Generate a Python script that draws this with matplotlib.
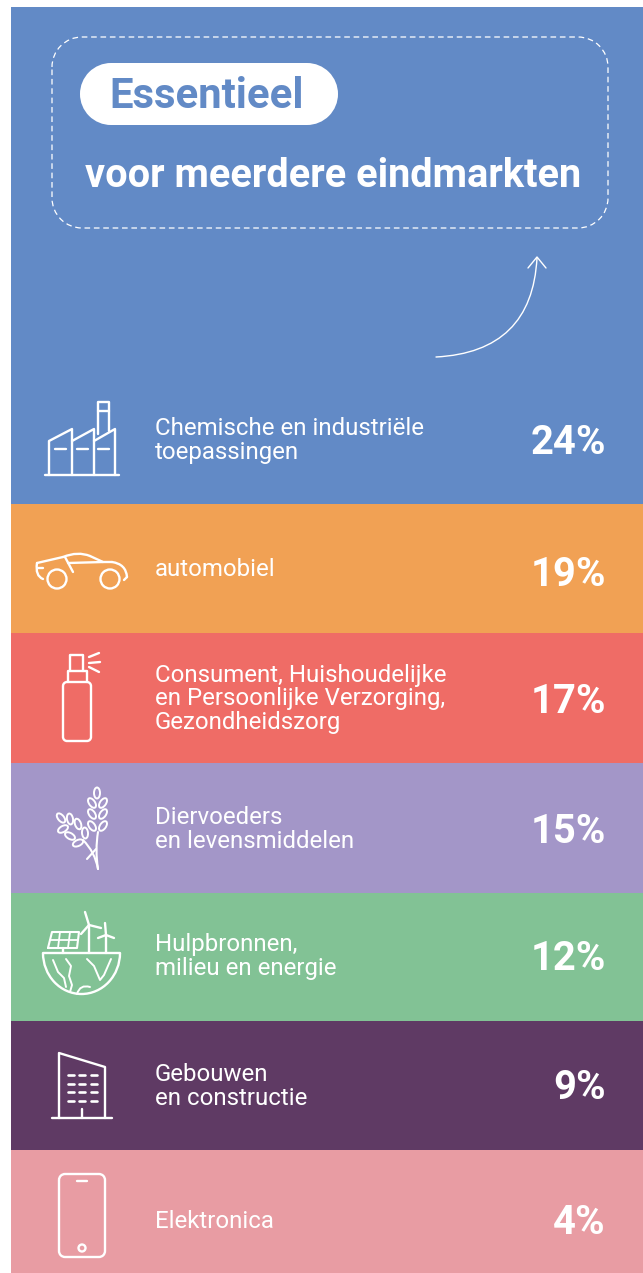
import matplotlib
matplotlib.use("Agg")
import matplotlib.pyplot as plt
import numpy as np
from matplotlib.patches import Circle, Ellipse, PathPatch
from matplotlib.path import Path
from matplotlib.transforms import Affine2D

plt.rcParams['font.family'] = ['Roboto', 'DejaVu Sans']

categories = ["Chemische en industriële\ntoepassingen", "automobiel",
              "Consument, Huishoudelijke\nen Persoonlijke Verzorging,\nGezondheidszorg",
              "Diervoeders\nen levensmiddelen", "Hulpbronnen,\nmilieu en energie",
              "Gebouwen\nen constructie", "Elektronica"]
values = [24, 19, 17, 15, 12, 9, 4]
band_edges = [7, 504, 633, 763, 893, 1021, 1150, 1273]
colors = ["#628AC6", "#F1A154", "#EF6C66", "#A396C8", "#82C295", "#5F3A64", "#E89CA3"]
label_y = [440.5, 570, 699, 829.5, 956.5, 1086.5, 1221]
value_y = [443, 575, 702, 832, 959, 1088, 1223]

W = "white"
LW = 1.7
fig = plt.figure(figsize=(6.43, 12.73), dpi=100)
ax = fig.add_axes([0, 0, 1, 1])
ax.set_xlim(0, 643)
ax.set_ylim(1273, 0)
ax.axis("off")


def lijn(pts, lw=LW):
    ax.plot([p[0] for p in pts], [p[1] for p in pts], c=W, lw=lw, solid_capstyle="round", solid_joinstyle="round")


def kromme(pts, lw=LW):
    # punten als start, controle, eind, controle, eind ...
    codes = [Path.MOVETO] + [Path.CURVE3] * (len(pts) - 1)
    ax.add_patch(PathPatch(Path(pts, codes), fc="none", ec=W, lw=lw, capstyle="round"))


def rond(x, y, w, h, r, fc="none", lw=LW, ls="-", ec=W):
    # rechthoek met echte cirkelbogen als hoeken
    hoeken = [(180, 270, x + r, y + r), (270, 360, x + w - r, y + r),
              (0, 90, x + w - r, y + h - r), (90, 180, x + r, y + h - r)]
    verts = []
    codes = []
    for a, b, cx, cy in hoeken:
        p = Path.arc(a, b).transformed(Affine2D().scale(r).translate(cx, cy))
        verts.extend(p.vertices)
        codes.extend([Path.LINETO] + list(p.codes[1:]))
    codes[0] = Path.MOVETO
    verts.append(verts[0])
    codes.append(Path.LINETO)
    ax.add_patch(PathPatch(Path(np.array(verts), codes), fc=fc, ec=ec, lw=lw, ls=ls))


# banden
for i in range(len(values)):
    ax.bar(11, band_edges[i + 1] - band_edges[i], width=632, bottom=band_edges[i], align="edge", color=colors[i], lw=0)
    ax.text(155, label_y[i], categories[i], color=W, fontsize=17.3, va="center", ha="left", linespacing=1.05)
    ax.text(606, value_y[i], "%d%%" % values[i], color=W, fontsize=28.8, fontweight="bold", va="center", ha="right")

# kop
rond(52, 37, 556, 191, 30, lw=0.9, ls=(0, (4.5, 3)))
rond(80, 63, 258, 62, 31, fc=W, lw=0, ec="none")
ax.text(109, 97, "Essentieel", color=colors[0], fontsize=30.2, fontweight="bold", va="center", ha="left")
ax.text(85, 176, "voor meerdere eindmarkten", color=W, fontsize=28.65, fontweight="bold", va="center", ha="left")

# pijl
kromme([(436, 357), (532, 352), (537, 258)], lw=1.0)
lijn([(528, 268), (537, 257), (546, 268)], lw=1.0)

# fabriek
lijn([(45, 475), (119, 475)])
lijn([(49, 475), (49, 441), (72, 429), (72, 475)])
lijn([(72, 441), (94, 429), (94, 441)])
lijn([(94, 475), (94, 441), (115, 429), (115, 475)])
lijn([(98, 434), (98, 402), (109, 402), (109, 431)])
lijn([(98, 411), (109, 411)])
for x0 in (55, 77, 98):
    lijn([(x0, 449), (x0 + 11, 449)])

# auto
lijn([(37, 563), (63, 557)])
kromme([(63, 557), (78, 551), (90, 556)])
lijn([(90, 556), (103, 562), (112, 562)])
kromme([(112, 562), (126, 564), (127, 577)])
lijn([(127, 577), (124, 580)])
kromme([(37, 563), (35, 576), (43, 579)])
lijn([(38, 568), (43, 568)])
lijn([(65, 557), (73, 572)])
lijn([(68, 563), (103, 562)])
for x0 in (57, 110):
    ax.add_patch(Circle((x0, 579), 9.5, fc="none", ec=W, lw=LW))

# spray
rond(63, 682, 28, 59, 4)
lijn([(68, 682), (68, 671), (87, 671), (87, 682)])
lijn([(70, 671), (70, 655), (83, 655), (83, 671)])
lijn([(89, 657), (99, 653)])
lijn([(89, 663), (100, 662)])
lijn([(89, 667), (99, 672)])

# aar
kromme([(98, 869), (95, 850), (98, 832)], lw=1.5)
kromme([(98, 869), (95, 852), (83, 840)], lw=1.5)
lijn([(87, 859), (96, 849)], lw=1.5)
blad_x = [97, 92, 103, 92, 103, 92, 103, 61, 70, 78, 85, 63, 70, 78]
blad_y = [793, 803, 803, 814, 814, 826, 826, 818, 819, 824, 833, 829, 836, 843]
blad_hoek = [90, 55, 125, 55, 125, 55, 125, 50, 80, 70, 85, 150, 30, 155]
for x0, y0, h in zip(blad_x, blad_y, blad_hoek):
    ax.add_patch(Ellipse((x0, y0), 11, 6, angle=h, fc="none", ec=W, lw=1.4))

# wereld
lijn([(43, 953), (120, 953)])
boog = Path.arc(0, 180).transformed(Affine2D().scale(38.5, 41).translate(81.5, 953))
ax.add_patch(PathPatch(boog, fc="none", ec=W, lw=LW))
lijn([(48, 948), (52, 932), (79, 932), (77, 948), (48, 948)], lw=1.5)
lijn([(50, 940), (78, 940)], lw=1.3)
lijn([(60, 932), (58, 948)], lw=1.3)
lijn([(70, 932), (68, 948)], lw=1.3)
lijn([(63, 948), (63, 953)])
lijn([(89, 953), (89, 925)])
lijn([(89, 925), (85, 912)])
lijn([(89, 925), (101, 928)])
lijn([(89, 925), (81, 934)])
lijn([(106, 953), (106, 935)])
lijn([(106, 935), (105, 923)])
lijn([(106, 935), (114, 938)])
lijn([(106, 935), (98, 938)])
lijn([(53, 960), (58, 972), (64, 978), (66, 987)], lw=1.4)
lijn([(66, 959), (71, 966), (69, 976), (72, 985), (70, 992)], lw=1.4)
lijn([(87, 959), (94, 966), (100, 980), (104, 975), (111, 959)], lw=1.4)
kromme([(77, 994), (80, 984), (90, 987)], lw=1.4)

# gebouw
lijn([(59, 1118), (59, 1053), (105, 1067), (105, 1118)])
lijn([(52, 1118), (112, 1118)])
lijn([(82, 1109), (82, 1118)])
for y0 in (1075, 1084, 1092, 1101):
    for x0 in (68, 79, 91):
        lijn([(x0, y0), (x0 + 5.5, y0)], lw=1.9)

# telefoon
rond(59, 1174, 46, 83, 6)
lijn([(77, 1181), (87, 1181)])
ax.add_patch(Circle((82, 1248), 3.5, fc="none", ec=W, lw=LW))

fig.savefig("out.png", dpi=100, facecolor="white")
